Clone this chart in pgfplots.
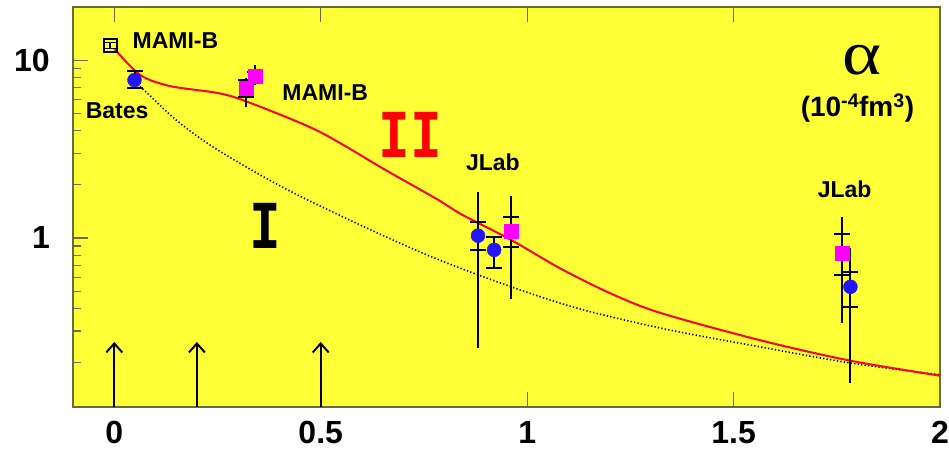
\documentclass[border=0pt]{standalone}
\usepackage{pgfplots}
\pgfplotsset{compat=1.18}
\usepackage{fontspec}
\setmainfont{Liberation Sans}
\newfontfamily\serifgreek{Liberation Serif}
\newfontfamily\romanfont{DejaVu Sans Mono}
\usetikzlibrary{arrows.meta}

\definecolor{bgyellow}{RGB}{255,255,56}
\definecolor{framecol}{RGB}{105,105,60}
\definecolor{ptblue}{RGB}{35,20,250}
\definecolor{ptmag}{RGB}{255,0,255}

% outer (total) error bars, drawn without caps
\pgfplotstableread{
x      y     ep     em
0.881  1.03  0.78   0.79
0.961  1.09  0.63   0.636
1.762  0.823 0.487  0.49
1.783  0.531 0.348  0.378
0.319  6.96  0.94   1.51
0.341  8.13  1.30   0.90
}\outerbars

% inner (statistical) error bars, drawn with caps
\pgfplotstableread{
x      y     ep     em
0.881  1.03  0.20   0.173
0.920  0.857 0.153  0.179
0.961  1.09  0.22   0.20
1.762  0.823 0.227  0.203
1.783  0.531 0.113  0.121
0.049  7.72  0.95   0.76
0.319  6.96  0.75   0.76
0.341  8.13  0.50   0.50
}\innerbars

% MAMI-B point at the real-photon point
\pgfplotstableread{
x      y     ep     em
-0.01  12.1  0.5    0.5
}\mamizero

\begin{document}
\begin{tikzpicture}
\begin{axis}[
  at={(0pt,0pt)}, anchor=south west,
  scale only axis, width=867pt, height=400pt,
  xmin=-0.1, xmax=2,
  ymode=log, ymin=0.112, ymax=19.9,
  axis background/.style={fill=bgyellow},
  axis line style={framecol, line width=2.2pt},
  xtick={0,0.5,1,1.5,2}, xticklabels={0,0.5,1,1.5,2},
  ytick={1,10}, yticklabels={1,10},
  minor ytick={0.2,0.3,0.4,0.5,0.6,0.7,0.8,0.9,2,3,4,5,6,7,8,9},
  xtick pos=both, ytick pos=left,
  tick align=inside,
  tick style={framecol, line width=1.2pt},
  major tick length=15pt, minor tick length=8pt,
  /pgf/number format/assume math mode=true,
  ticklabel style={font=\fontsize{32}{32}\selectfont\bfseries, inner sep=0pt},
  xticklabel style={yshift=-14pt},
  yticklabel style={xshift=-23pt},
]

% arrows marking the reference kinematics
\addplot[black, line width=2pt, -{Straight Barb[length=9pt,width=16pt,line width=2pt]}] coordinates {(0,0.112) (0,0.26)};
\addplot[black, line width=2pt, -{Straight Barb[length=9pt,width=16pt,line width=2pt]}] coordinates {(0.2,0.112) (0.2,0.26)};
\addplot[black, line width=2pt, -{Straight Barb[length=9pt,width=16pt,line width=2pt]}] coordinates {(0.5,0.112) (0.5,0.26)};

% curve I (dotted)
\addplot[black, line width=1.6pt, dash pattern=on 1.3pt off 2.2pt, smooth, mark=none] coordinates {
(0.055,7.3) (0.08,6.53) (0.15,4.6) (0.251,3.12) (0.445,1.74) (0.769,0.782)
(1.078,0.431) (1.321,0.312) (1.564,0.244) (1.783,0.198) (2.0,0.170)};

% curve II (solid red)
\addplot[red, line width=2pt, smooth, mark=none] coordinates {
(0.0,11.6) (0.063,8.24) (0.136,7.14) (0.251,6.53) (0.324,5.81) (0.494,3.99)
(0.657,2.41) (0.786,1.63) (0.835,1.38) (0.961,0.975) (1.078,0.678) (1.2,0.49)
(1.321,0.38) (1.564,0.266) (1.783,0.204) (2.0,0.168)};

% error bars
\addplot[draw=none, mark=none,
  error bars/.cd, y dir=both, y explicit, error mark=none,
  error bar style={black, line width=2pt}]
  table[x=x, y=y, y error plus=ep, y error minus=em] {\outerbars};
\addplot[draw=none, mark=none,
  error bars/.cd, y dir=both, y explicit, error mark=|,
  error mark options={black, line width=2pt, mark size=8pt},
  error bar style={black, line width=2pt}]
  table[x=x, y=y, y error plus=ep, y error minus=em] {\innerbars};
\addplot[draw=none, mark=none,
  error bars/.cd, y dir=both, y explicit, error mark=|,
  error mark options={black, line width=1.5pt, mark size=5.5pt},
  error bar style={black, line width=1.5pt}]
  table[x=x, y=y, y error plus=ep, y error minus=em] {\mamizero};

% MAMI-B (open square)
\addplot[only marks, mark=square, mark size=6.5pt, mark options={black, line width=1.8pt}] coordinates {(-0.01,12.1)};
% magenta squares
\addplot[only marks, mark=square*, mark size=7pt, mark options={draw=ptmag, fill=ptmag}] coordinates {
(0.319,6.96) (0.341,8.13) (0.961,1.09) (1.762,0.823)};
% blue circles
\addplot[only marks, mark=*, mark size=7pt, mark options={draw=ptblue, fill=ptblue}] coordinates {
(0.049,7.72) (0.881,1.03) (0.920,0.857) (1.783,0.531)};

% labels
\node[font=\fontsize{23}{23}\selectfont\bfseries] at (axis cs:0.148,12.95) {MAMI-B};
\node[font=\fontsize{23}{23}\selectfont\bfseries] at (axis cs:0.007,5.17) {Bates};
\node[font=\fontsize{23}{23}\selectfont\bfseries] at (axis cs:0.511,6.61) {MAMI-B};
\node[font=\fontsize{23}{23}\selectfont\bfseries] at (axis cs:0.917,2.67) {JLab};
\node[font=\fontsize{23}{23}\selectfont\bfseries] at (axis cs:1.769,1.885) {JLab};
\node[font=\romanfont\fontsize{62}{62}\selectfont\bfseries, text=red, xscale=0.85] at (axis cs:0.718,3.79) {II};
\node[font=\romanfont\fontsize{62}{62}\selectfont\bfseries, xscale=0.85] at (axis cs:0.367,1.17) {I};
\node[font=\serifgreek\fontsize{62}{62}\selectfont, xscale=1.2] at (axis cs:1.81,10.0) {α};
\node[font=\fontsize{28}{28}\selectfont\bfseries] at (axis cs:1.80,5.35) {(10\textsuperscript{-4}fm\textsuperscript{3})};
\end{axis}
\pgfresetboundingbox
\path (-73pt,-43pt) rectangle (876pt,407pt);
\end{tikzpicture}
\end{document}
